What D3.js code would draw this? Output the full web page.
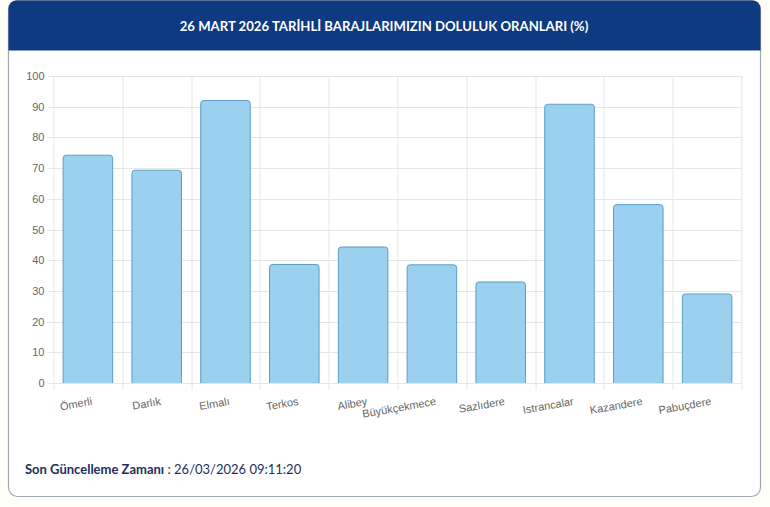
<!DOCTYPE html>
<html>
<head>
<meta charset="utf-8">
<script src="https://cdn.jsdelivr.net/npm/d3@7"></script>
<style>
  html, body { margin: 0; padding: 0; background: #fffef8; }
  svg { display: block; }
</style>
</head>
<body>
<svg id="chart"></svg>
<script>
// Baraj doluluk oranları, 26 Mart 2026
const barajlar = ["Ömerli", "Darlık", "Elmalı", "Terkos", "Alibey", "Büyükçekmece",
  "Sazlıdere", "Istrancalar", "Kazandere", "Pabuçdere"];
const doluluk = [74.2, 69.3, 92.0, 38.6, 44.3, 38.5, 32.9, 90.8, 58.1, 29.0];
const yTicks = [0, 10, 20, 30, 40, 50, 60, 70, 80, 90, 100];

const title = "26 MART 2026 TARİHLİ BARAJLARIMIZIN DOLULUK ORANLARI (%)";
const footLabel = "Son Güncelleme Zamanı";
const footValue = " : 26/03/2026 09:11:20";

const W = 770, H = 507;
const svg = d3.select('#chart').attr('width', W).attr('height', H);

// card
const card = { x: 8.5, y: 0.5, w: 752, h: 496, r: 9 };
svg.append('rect')
  .attr('x', card.x).attr('y', card.y)
  .attr('width', card.w).attr('height', card.h)
  .attr('rx', card.r)
  .attr('fill', '#fff')
  .attr('stroke', '#9ea8b0')
  .attr('stroke-width', 1.2);

// header with rounded top corners only
const hh = 50;
svg.append('path')
  .attr('d', `M${card.x},${card.y + hh} V${card.y + card.r} Q${card.x},${card.y} ${card.x + card.r},${card.y}
    H${card.x + card.w - card.r} Q${card.x + card.w},${card.y} ${card.x + card.w},${card.y + card.r} V${card.y + hh} Z`)
  .attr('fill', '#0e3a82');

svg.append('text')
  .attr('x', 384).attr('y', 26)
  .attr('text-anchor', 'middle')
  .attr('dominant-baseline', 'central')
  .attr('fill', '#fff')
  .style('font-family', 'Lato, sans-serif')
  .style('font-weight', 700)
  .style('font-size', '13.15px')
  .text(title);

// plot
const margin = { top: 76, left: 53.5, right: 28.5, bottom: 124 };
const innerW = W - margin.left - margin.right;
const innerH = H - margin.top - margin.bottom;
const g = svg.append('g').attr('transform', `translate(${margin.left},${margin.top})`);

const x = d3.scaleBand().domain(barajlar).range([0, innerW]);
const y = d3.scaleLinear().domain([0, 100]).range([innerH, 0]);

const grid = '#e6e6e6';
// horizontal grid + ticks
g.selectAll('.hg').data(yTicks).enter().append('line')
  .attr('x1', -6).attr('x2', innerW)
  .attr('y1', d => Math.round(y(d)) + 0.5).attr('y2', d => Math.round(y(d)) + 0.5)
  .attr('stroke', grid);

// vertical grid at category borders
const borders = barajlar.map(b => x(b)).concat([innerW]);
g.selectAll('.vg').data(borders).enter().append('line')
  .attr('x1', d => Math.round(d) + 0.5).attr('x2', d => Math.round(d) + 0.5)
  .attr('y1', 0).attr('y2', innerH + 7)
  .attr('stroke', grid);

// y labels
g.append('g')
  .call(d3.axisLeft(y).tickValues(yTicks).tickSize(0).tickPadding(9))
  .call(s => s.select('.domain').remove())
  .call(s => s.selectAll('text')
    .attr('fill', '#666')
    .style('font-family', '"Liberation Sans", Arial, sans-serif')
    .style('font-size', '11px'));

// bars
const bw = x.bandwidth() * 0.72;
const rr = 3;
g.selectAll('.bar').data(doluluk).enter().append('path')
  .attr('d', (d, i) => {
    const x0 = x(barajlar[i]) + (x.bandwidth() - bw) / 2;
    const x1 = x0 + bw;
    const y0 = y(d), yb = y(0);
    return `M${x0},${yb} V${y0 + rr} Q${x0},${y0} ${x0 + rr},${y0} H${x1 - rr} Q${x1},${y0} ${x1},${y0 + rr} V${yb}`;
  })
  .attr('fill', '#9bd0ee')
  .attr('stroke', '#5b9fc6')
  .attr('stroke-width', 1);

// x labels, rotated
g.selectAll('.xl').data(barajlar).enter().append('text')
  .attr('transform', d => `translate(${x(d) + x.bandwidth() / 2 + 4},${innerH + 18}) rotate(-10)`)
  .attr('text-anchor', 'end')
  .attr('dy', '0.35em')
  .attr('fill', '#666')
  .style('font-family', '"Liberation Sans", Arial, sans-serif')
  .style('font-size', '11px')
  .text(d => d);

// footer
const foot = svg.append('text')
  .attr('x', 25).attr('y', 474)
  .attr('fill', '#1d2f5c')
  .style('font-family', 'Lato, sans-serif')
  .style('font-size', '13px');
foot.append('tspan').style('font-weight', 700).text(footLabel);
foot.append('tspan').style('font-weight', 400).text(footValue);
</script>
</body>
</html>
